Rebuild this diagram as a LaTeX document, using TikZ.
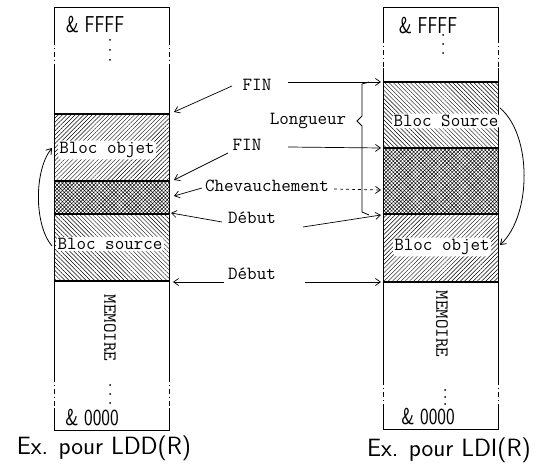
\documentclass[tikz,border=0pt]{standalone}
\usepackage{fontspec}
\usetikzlibrary{patterns.meta,arrows.meta}
\newcommand\labfont{\ttfamily\fontsize{18.5}{21}\selectfont}
\newcommand\addrfont{\sffamily\fontsize{23}{25}\selectfont}
\newcommand\capfont{\sffamily\fontsize{25}{27}\selectfont}
\tikzset{
  hatchNE/.style={pattern={Lines[angle=45,distance=3pt,line width=0.45pt]}},
  hatchNW/.style={pattern={Lines[angle=-45,distance=3pt,line width=0.45pt]}},
  crossh/.style={pattern={Hatch[angle=45,distance=2.6pt,line width=0.45pt]}},
  colside/.style={line width=0.9pt},
  dashside/.style={line width=0.9pt,dash pattern=on 5pt off 3pt on 1pt off 3pt},
  sep/.style={line width=1.4pt},
  lab/.style={font=\labfont,inner sep=1pt},
  blab/.style={font=\labfont,fill=white,inner sep=1.5pt,rounded corners=4pt},
  addr/.style={font=\addrfont,inner sep=0pt,xscale=0.8},
  capt/.style={font=\capfont,inner sep=0pt},
  dotm/.style={circle,fill=black,inner sep=0pt,minimum size=2pt},
  arr/.style={line width=0.7pt,-{Straight Barb[length=5pt,width=7pt]}},
}
\begin{document}
\begin{tikzpicture}[x=1pt,y=-1pt]
\useasboundingbox (0,0) rectangle (549,470);
% ---------------- left column ----------------
\fill[hatchNE] (54,114) rectangle (169,181);
\fill[crossh] (54,181) rectangle (169,214);
\fill[hatchNW] (54,214) rectangle (169,281);
\draw[colside] (54,40) -- (54,7) -- (169,7) -- (169,40);
\draw[dashside] (54,40) -- (54,68) (169,40) -- (169,68);
\draw[colside] (54,68) -- (54,377) (169,68) -- (169,377);
\draw[dashside] (54,377) -- (54,408) (169,377) -- (169,408);
\draw[colside] (54,408) -- (54,430) -- (169,430) -- (169,408);
\draw[sep] (54,114) -- (169,114) (54,181) -- (169,181) (54,214) -- (169,214) (54,281) -- (169,281);
\node[addr] (lffff) at (95,25) {\& FFFF};
\node[dotm] (ld1) at (110,40) {};
\node[dotm] (ld2) at (110,50) {};
\node[dotm] (ld3) at (110,60) {};
\node[blab] (lobj) at (107,150) {Bloc objet};
\node[blab] (lsrc) at (110,244) {Bloc source};
\node[lab,rotate=-90] (lmem) at (110,328) {MEMOIRE};
\node[dotm] (ld4) at (110,385) {};
\node[dotm] (ld5) at (110,394) {};
\node[dotm] (ld6) at (110,403) {};
\node[addr] (l0000) at (92,418) {\& 0000};
\node[capt] (lcap) at (104,448) {Ex. pour LDD(R)};
\coordinate (lcs) at (52,246);
\coordinate (lce) at (52,148);
\draw[arr,line width=0.8pt] (lcs) .. controls (34,225) and (34,170) .. (lce);
% ---------------- right column ----------------
\fill[hatchNW] (383,82) rectangle (498,148);
\fill[crossh] (383,148) rectangle (498,214);
\fill[hatchNE] (383,214) rectangle (498,282);
\draw[colside] (383,38) -- (383,7) -- (498,7) -- (498,38);
\draw[dashside] (383,38) -- (383,68) (498,38) -- (498,68);
\draw[colside] (383,68) -- (383,380) (498,68) -- (498,380);
\draw[dashside] (383,380) -- (383,408) (498,380) -- (498,408);
\draw[colside] (383,408) -- (383,429) -- (498,429) -- (498,408);
\draw[sep] (383,82) -- (498,82) (383,148) -- (498,148) (383,214) -- (498,214) (383,282) -- (498,282);
\node[addr] (rffff) at (428,26) {\& FFFF};
\node[dotm] (rd1) at (443,35) {};
\node[dotm] (rd2) at (443,44) {};
\node[dotm] (rd3) at (443,53) {};
\node[blab] (rsrc) at (446,121) {Bloc Source};
\node[blab] (robj) at (442,247) {Bloc objet};
\node[lab,rotate=-90] (rmem) at (442,324) {MEMOIRE};
\node[dotm] (rd4) at (445,390) {};
\node[dotm] (rd5) at (445,397) {};
\node[dotm] (rd6) at (445,404) {};
\node[addr] (r0000) at (428,417) {\& 0000};
\node[capt] (rcap) at (449,450) {Ex. pour LDI(R)};
\coordinate (rcs) at (500,108);
\coordinate (rce) at (500,245);
\draw[arr,line width=0.8pt] (rcs) .. controls (532,135) and (532,215) .. (rce);
% ---------------- middle labels ----------------
\node[lab] (fin1) at (257,85) {FIN};
\node[lab] (fin2) at (247,145) {FIN};
\node[lab] (chev) at (267,186) {Chevauchement};
\node[lab] (deb1) at (252,218) {Début};
\node[lab] (deb2) at (252,274) {Début};
\node[lab] (long) at (308,121) {Longueur};
% left-side arrows
\coordinate (f1a) at (232,86);   \coordinate (f1b) at (174,112);
\coordinate (f2a) at (228,153);  \coordinate (f2b) at (174,180);
\coordinate (cha) at (202,188);  \coordinate (chb) at (174,196);
\coordinate (d1a) at (222,222);  \coordinate (d1b) at (171,213);
\coordinate (d2a) at (224,282);  \coordinate (d2b) at (173,282);
\draw[arr] (f1a) -- (f1b);
\draw[arr] (f2a) -- (f2b);
\draw[arr] (cha) -- (chb);
\draw[arr] (d1a) -- (d1b);
\draw[arr] (d2a) -- (d2b);
% right-side arrows
\coordinate (f1c) at (288,82);   \coordinate (f1d) at (381,82);
\coordinate (f2c) at (288,147);  \coordinate (f2d) at (381,148);
\coordinate (chc) at (334,189);  \coordinate (chd) at (381,190);
\coordinate (d1c) at (303,227);  \coordinate (d1d) at (381,215);
\coordinate (d2c) at (305,282);  \coordinate (d2d) at (381,282);
\draw[arr] (f1c) -- (f1d);
\draw[arr] (f2c) -- (f2d);
\draw[arr,dashed] (chc) -- (chd);
\draw[arr] (d1c) -- (d1d);
\draw[arr] (d2c) -- (d2d);
% Longueur brace
\coordinate (bt) at (369,82);
\coordinate (bb) at (369,215);
\draw[line width=0.8pt] (bt) -- (362,84) -- (362,116) -- (357,121) -- (362,126) -- (362,212) -- (bb);
\end{tikzpicture}
\end{document}
